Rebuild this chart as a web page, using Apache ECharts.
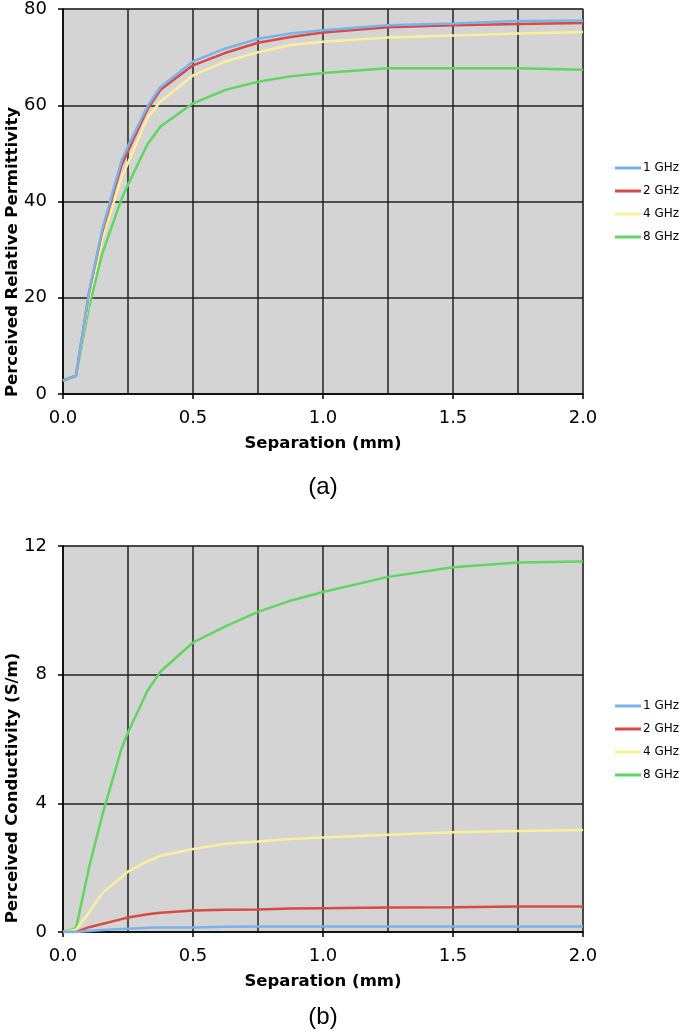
<!DOCTYPE html>
<html>
<head>
<meta charset="utf-8">
<script src="https://cdn.jsdelivr.net/npm/echarts@6/dist/echarts.min.js"></script>
<style>html,body{margin:0;padding:0;background:#fff;}#c{width:685px;height:1032px;}</style>
</head>
<body>
<div id="c"></div>
<script>
var separation = [0, 0.05, 0.1, 0.15, 0.225, 0.25, 0.325, 0.375, 0.5, 0.625, 0.75, 0.875, 1.0, 1.25, 1.5, 1.75, 2.0];
var seriesNames = ['1 GHz', '2 GHz', '4 GHz', '8 GHz'];
var xTicks = [0, 0.5, 1.0, 1.5, 2.0];
var yTicksA = [0, 20, 40, 60, 80];
var yTicksB = [0, 4, 8, 12];

var permittivity1 = [2.8, 3.8, 21, 34, 48.5, 51.5, 59.8, 63.8, 69.1, 71.8, 73.8, 74.9, 75.6, 76.6, 77.0, 77.5, 77.6];
var permittivity2 = [2.8, 3.8, 21, 33.5, 47.5, 50.5, 59.2, 63.2, 68.3, 70.9, 73.0, 74.2, 75.1, 76.2, 76.6, 76.9, 77.1];
var permittivity4 = [2.8, 3.8, 20, 32, 45, 48, 57.4, 60.8, 66.2, 69.1, 71.0, 72.5, 73.2, 74.1, 74.5, 74.9, 75.2];
var permittivity8 = [2.8, 3.8, 18, 29, 40.5, 43.5, 51.9, 55.6, 60.4, 63.2, 64.9, 66.0, 66.7, 67.7, 67.7, 67.7, 67.4];

var conductivity1 = [0, 0, 0.03, 0.06, 0.09, 0.1, 0.13, 0.14, 0.14, 0.16, 0.17, 0.17, 0.17, 0.17, 0.17, 0.17, 0.17];
var conductivity2 = [0, 0, 0.15, 0.25, 0.4, 0.45, 0.55, 0.6, 0.67, 0.69, 0.7, 0.73, 0.74, 0.76, 0.77, 0.79, 0.79];
var conductivity4 = [0, 0.07, 0.6, 1.2, 1.7, 1.88, 2.2, 2.37, 2.58, 2.74, 2.81, 2.89, 2.94, 3.02, 3.1, 3.14, 3.17];
var conductivity8 = [0, 0.12, 2.0, 3.6, 5.7, 6.2, 7.5, 8.1, 9.0, 9.5, 9.95, 10.3, 10.57, 11.04, 11.34, 11.49, 11.52];

var colors = ['#78b4ea', '#d84a44', '#fbef9c', '#5fd660'];
var FONT = 'DejaVu Sans';

function pairs(xs, ys) { return xs.map(function (x, i) { return [x, ys[i]]; }); }

function xAxisCfg(gi) {
  return {
    type: 'value', gridIndex: gi, min: 0, max: 2, interval: 0.5,
    name: 'Separation (mm)', nameLocation: 'middle', nameGap: 41,
    nameTextStyle: { fontFamily: FONT, fontWeight: 'bold', fontSize: 16.5, color: '#000' },
    axisLine: { show: true, onZero: false, lineStyle: { color: '#000', width: 1.5 } },
    axisTick: { show: true, length: 5, lineStyle: { color: '#000', width: 1.5 } },
    axisLabel: { margin: 15, fontFamily: FONT, fontSize: 18, color: '#000',
      customValues: xTicks, formatter: function (v) { return v.toFixed(1); } },
    splitLine: { show: true, lineStyle: { color: '#222', width: 1.5 } },
    minorTick: { show: false, splitNumber: 2 },
    minorSplitLine: { show: true, lineStyle: { color: '#222', width: 1.5 } }
  };
}
function yAxisCfg(gi, max, interval, ticks) {
  return {
    type: 'value', gridIndex: gi, min: 0, max: max, interval: interval,
    axisLine: { show: true, lineStyle: { color: '#000', width: 1.5 } },
    axisTick: { show: true, length: 5, lineStyle: { color: '#000', width: 1.5 } },
    axisLabel: { margin: 16, fontFamily: FONT, fontSize: 18, color: '#000', customValues: ticks },
    splitLine: { show: true, lineStyle: { color: '#222', width: 1.5 } }
  };
}
function lineSeries(name, gi, ys, ci) {
  return {
    type: 'line', name: name, xAxisIndex: gi, yAxisIndex: gi,
    data: pairs(separation, ys), showSymbol: false, symbol: 'none',
    lineStyle: { color: colors[ci], width: 2.5 }, itemStyle: { color: colors[ci] },
    z: 3 + (3 - ci), animation: false
  };
}
function legendCfg(top) {
  return {
    data: seriesNames, orient: 'vertical', left: 615, top: top, padding: 0,
    icon: 'rect', itemWidth: 26, itemHeight: 3, itemGap: 11,
    textStyle: { fontFamily: FONT, fontSize: 12, color: '#000', padding: [0, 0, 0, -3] }
  };
}

var chart = echarts.init(document.getElementById('c'), null, { renderer: 'canvas' });
chart.setOption({
  animation: false,
  backgroundColor: '#fff',
  grid: [
    { left: 63, top: 8, width: 520, height: 386, show: true, backgroundColor: '#d4d4d4', borderColor: '#a8a8a8', borderWidth: 1.5 },
    { left: 63, top: 546, width: 520, height: 386, show: true, backgroundColor: '#d4d4d4', borderColor: '#a8a8a8', borderWidth: 1.5 }
  ],
  legend: [legendCfg(162), legendCfg(700)],
  xAxis: [xAxisCfg(0), xAxisCfg(1)],
  yAxis: [yAxisCfg(0, 80, 20, yTicksA), yAxisCfg(1, 12, 4, yTicksB)],
  series: [
    lineSeries(seriesNames[0], 0, permittivity1, 0),
    lineSeries(seriesNames[1], 0, permittivity2, 1),
    lineSeries(seriesNames[2], 0, permittivity4, 2),
    lineSeries(seriesNames[3], 0, permittivity8, 3),
    lineSeries(seriesNames[0], 1, conductivity1, 0),
    lineSeries(seriesNames[1], 1, conductivity2, 1),
    lineSeries(seriesNames[2], 1, conductivity4, 2),
    lineSeries(seriesNames[3], 1, conductivity8, 3)
  ],
  graphic: [
    { type: 'text', x: 13, y: 252, rotation: Math.PI / 2,
      style: { text: 'Perceived Relative Permittivity', fontFamily: FONT, fontWeight: 'bold', fontSize: 16.5, fill: '#000', align: 'center', verticalAlign: 'middle' } },
    { type: 'text', x: 13, y: 788, rotation: Math.PI / 2,
      style: { text: 'Perceived Conductivity (S/m)', fontFamily: FONT, fontWeight: 'bold', fontSize: 16.5, fill: '#000', align: 'center', verticalAlign: 'middle' } },
    { type: 'text', x: 323, y: 487,
      style: { text: '(a)', fontFamily: 'Liberation Sans', fontSize: 24, fill: '#000', align: 'center', verticalAlign: 'middle' } },
    { type: 'text', x: 323, y: 1017,
      style: { text: '(b)', fontFamily: 'Liberation Sans', fontSize: 24, fill: '#000', align: 'center', verticalAlign: 'middle' } }
  ]
});
</script>
</body>
</html>
